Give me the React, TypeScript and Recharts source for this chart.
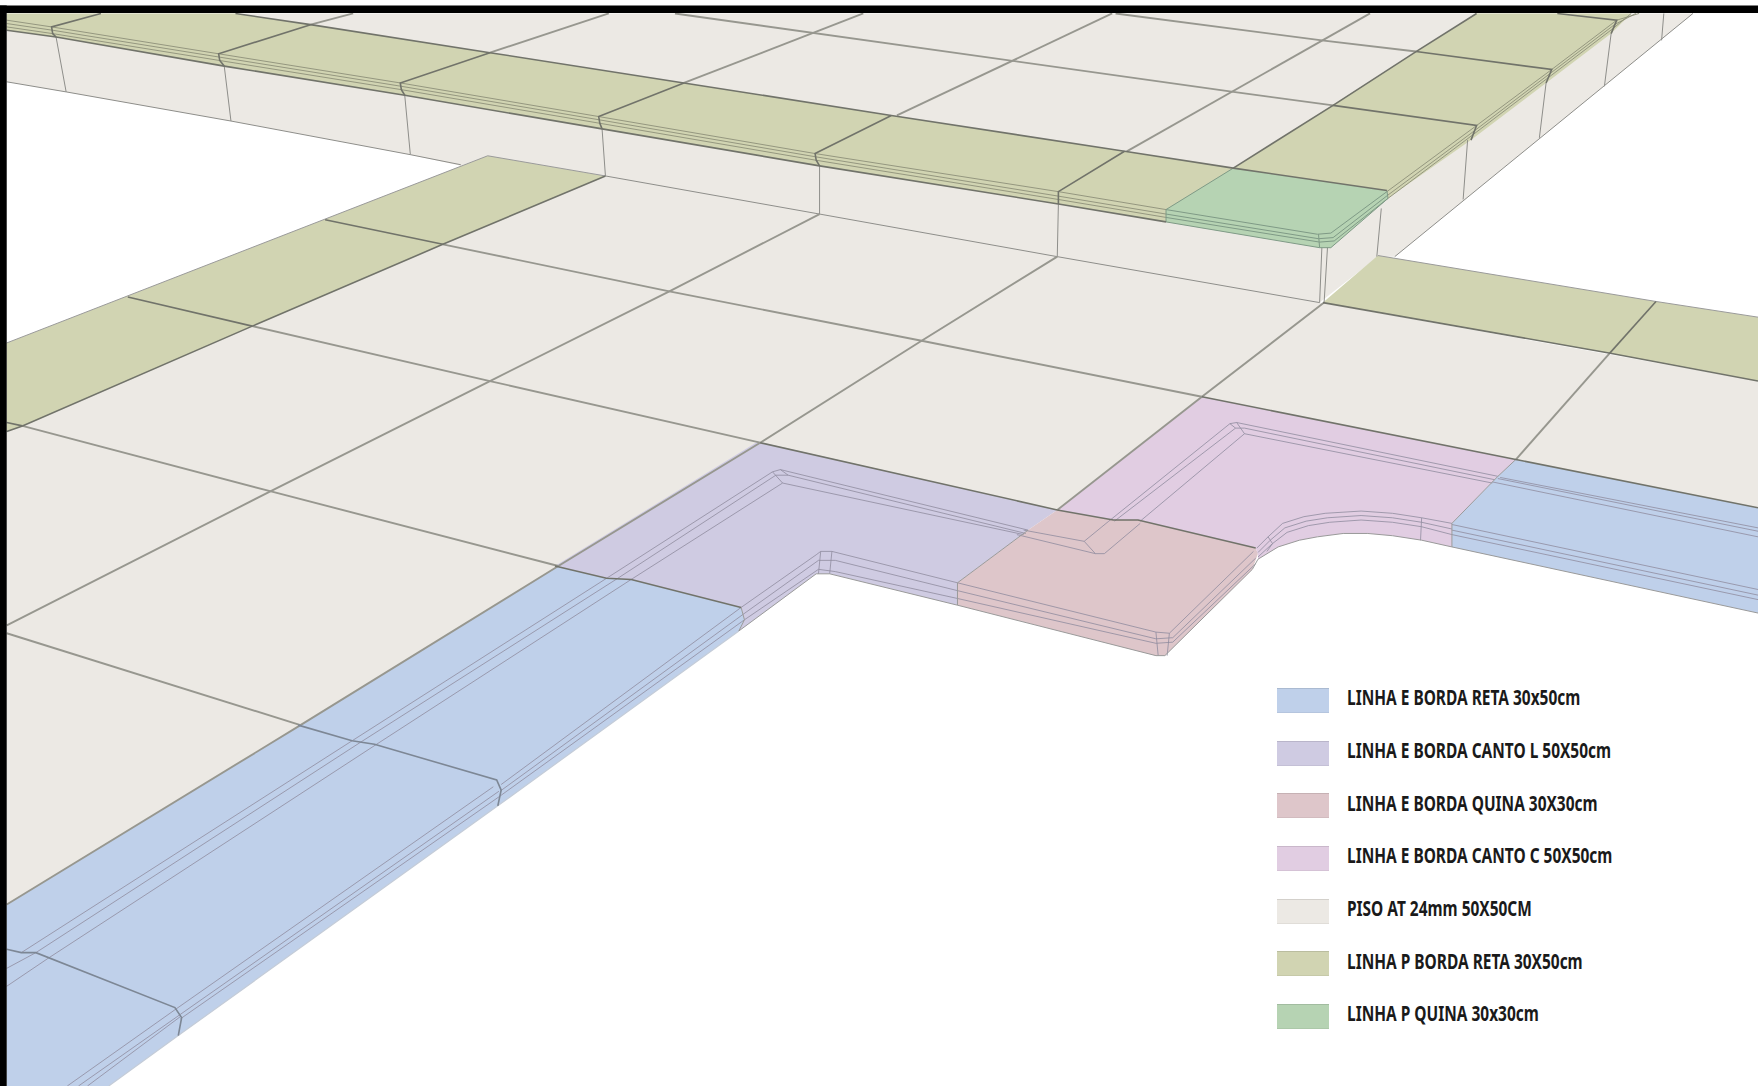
import React from 'react';
import { ComposedChart, Scatter, XAxis, YAxis, Legend } from 'recharts';

type P = [number, number];

const frameBands: P[][] = [
  [[0, 5], [1568, 5], [1568, 11.5], [0, 11.5]],
  [[0, 5], [6, 5], [6, 969], [0, 969]],
];

const pisoTiles: P[][] = [
  [[6, 12], [1510, 12], [1244, 229], [1229, 229], [1177, 270], [943, 229], [731, 191], [540, 157], [435, 139], [411, 148], [366, 138], [206, 108], [59, 82], [6, 73]],
  [[540, 157], [1177, 270], [1568, 340], [1568, 453], [1352, 410], [1072, 354], [943, 455], [678, 395], [498, 505], [268, 647], [6, 807], [6, 385], [20, 380], [225, 291], [395, 218]],
];
const bordaPTiles: P[][] = [
  [[6, 12], [210, 12], [277, 22], [437, 47], [610, 74], [795, 103], [1003, 135], [1100, 150], [1040, 198], [944, 182], [731, 148], [537, 115], [361, 85], [200, 59], [50, 33], [6, 27]],
  [[1100, 150], [1317, 12], [1455, 12], [1437, 30], [1379, 74], [1312, 125], [1238, 177], [1237, 170]],
  [[435, 139], [540, 157], [395, 218], [225, 291], [20, 380], [6, 385], [6, 306]],
  [[1229, 228], [1477, 269], [1568, 283], [1568, 340], [1435, 315], [1180, 270]],
];
const quinaPTiles: P[][] = [
  [[1100, 150], [1237, 170], [1238, 177], [1187, 221], [1177, 221], [1040, 198], [1040, 187]],
];
const retaETiles: P[][] = [
  [[6, 807], [268, 647], [498, 505], [541, 516], [563, 517], [661, 542], [664, 553], [659, 563], [444, 719], [159, 924], [97, 969], [6, 969]],
  [[1352, 410], [1568, 453], [1568, 547], [1295, 488], [1295, 467], [1336, 425]],
];
const cantoLTiles: P[][] = [
  [[676, 394], [943, 455], [917, 473], [854, 520], [854, 540], [740, 512], [728, 512], [659, 563], [664, 553], [661, 542], [563, 517], [541, 516], [495, 505]],
];
const quinaETiles: P[][] = [
  [[943, 455], [993, 464], [1015, 464], [1120, 489], [1122, 494], [1117, 508], [1039, 585], [1031, 585], [854, 540], [854, 520], [917, 473]],
];
const cantoCTiles: P[][] = [
  [[1072, 354], [1352, 410], [1336, 425], [1295, 467], [1295, 488], [1268, 482], [1242, 478], [1220, 476], [1198, 476], [1175, 479], [1159, 482], [1140, 488], [1122, 499], [1122, 494], [1120, 489], [1015, 464], [993, 464], [943, 455]],
];

const floorJoints: P[][] = [
  [[277, 22], [315, 12]],
  [[437, 47], [543, 12]],
  [[610, 74], [770, 12]],
  [[800, 103], [992, 12]],
  [[1005, 135], [1222, 12]],
  [[602, 12], [1100, 82], [1189, 94]],
  [[995, 12], [1179, 36], [1263, 46]],
  [[20, 380], [240, 438], [498, 505]],
  [[225, 291], [437, 340], [678, 395]],
  [[395, 218], [597, 260], [822, 304], [1072, 354]],
  [[6, 565], [268, 647]],
  [[6, 558], [242, 438], [437, 340], [597, 260], [731, 191]],
  [[6, 807], [268, 647], [498, 505], [678, 395], [822, 304], [943, 229]],
  [[943, 455], [1072, 354], [1181, 270]],
  [[1352, 410], [1435, 316]],
];

const riserLines: P[][] = [
  [[6, 73], [59, 82], [206, 108], [366, 138], [411, 147]],
  [[540, 157], [731, 191], [943, 229], [1177, 270]],
  [[50, 33], [59, 82]],
  [[200, 59], [206, 108]],
  [[361, 85], [366, 138]],
  [[537, 115], [540, 157]],
  [[731, 148], [731, 191]],
  [[944, 182], [943, 229]],
  [[1179, 221], [1177, 270]],
  [[1184, 221], [1181, 270]],
  [[1232, 186], [1228, 229]],
  [[1309, 125], [1305, 178]],
  [[1379, 74], [1373, 123]],
  [[1437, 30], [1431, 77]],
  [[1484, 12], [1482, 36]],
  [[1244, 229], [1510, 12]],
];

const darkEdges: P[][] = [
  [[210, 12], [277, 22], [437, 47], [610, 74], [795, 103], [1003, 135], [1100, 150], [1237, 170]],
  [[1100, 150], [1189, 94], [1263, 46], [1317, 12]],
  [[90, 12], [46, 24], [47, 30], [50, 33]],
  [[277, 22], [195, 48], [196, 54], [200, 59]],
  [[437, 47], [357, 74], [358, 80], [361, 85]],
  [[610, 74], [534, 104], [535, 110], [537, 115]],
  [[795, 103], [727, 137], [728, 143], [731, 148]],
  [[1003, 135], [944, 171], [944, 182]],
  [[1189, 94], [1317, 112], [1312, 125]],
  [[1263, 46], [1384, 62], [1379, 74]],
  [[1389, 12], [1442, 18], [1437, 30]],
  [[6, 27], [50, 33], [200, 59], [361, 85], [537, 115], [731, 148], [944, 182], [1040, 198]],
  [[290, 196], [395, 218]],
  [[114, 265], [225, 291]],
  [[6, 377], [20, 380]],
  [[540, 157], [395, 218], [225, 291], [20, 380], [6, 385]],
  [[1180, 270], [1435, 315], [1568, 340]],
  [[1477, 269], [1435, 316]],
  [[678, 395], [943, 455], [993, 464], [1015, 464], [1120, 489]],
  [[1072, 354], [1352, 410], [1568, 453]],
  [[495, 505], [541, 516], [563, 517], [661, 542]],
];

const blueJoints: P[][] = [
  [[266, 647], [314, 661], [334, 664], [443, 696], [447, 705], [444, 719]],
  [[6, 847], [19, 850], [32, 850], [156, 899], [162, 908], [159, 924]],
];

const outerEdges: P[][] = [
  [[728, 512], [740, 512], [854, 540], [1031, 585], [1039, 585], [1117, 508], [1122, 499], [1140, 488], [1159, 482], [1175, 479], [1198, 476], [1220, 476], [1242, 478], [1268, 482], [1295, 488], [1568, 547]],
  [[435, 139], [6, 306]],
  [[435, 139], [540, 157]],
  [[1229, 228], [1477, 269], [1568, 283]],
  [[917, 473], [854, 520], [854, 540]],
  [[1352, 410], [1336, 425], [1295, 467], [1295, 488]],
  [[661, 542], [664, 553], [659, 563]],
  [[659, 563], [728, 512]],
];

const faintEdges: P[][] = [
  [[659, 563], [444, 719], [159, 924], [97, 969]],
];

const stripGrooves: P[][] = [
  [[6, 18], [46, 24], [195, 48], [357, 74], [534, 104], [727, 137], [944, 171], [1040, 187]],
  [[6, 21], [47, 27], [196, 51], [358, 77], [535, 107], [728, 140], [944, 175], [1040, 191]],
  [[6, 24], [47, 30], [196, 54], [358, 80], [535, 110], [728, 143], [944, 178], [1040, 194]],
  [[1237, 171], [1317, 112], [1384, 62], [1442, 18], [1462, 12]],
  [[1238, 174], [1316, 116], [1382, 66], [1440, 22], [1459, 12]],
  [[1238, 177], [1314, 120], [1380, 70], [1438, 26], [1455, 12]],
];

const quinaPGrooves: P[][] = [
  [[1100, 150], [1040, 187], [1040, 198]],
  [[1040, 187], [1175, 209], [1187, 208], [1237, 171]],
  [[1040, 191], [1176, 213], [1189, 212], [1238, 174]],
  [[1040, 194], [1177, 216], [1190, 215], [1238, 177]],
  [[1040, 198], [1177, 221], [1187, 221], [1238, 177]],
  [[1176, 209], [1177, 221]],
  [[1237, 170], [1238, 177]],
];

const fineGrooves: P[][] = [
  [[19, 850], [314, 661], [541, 516], [689, 421], [696, 419], [917, 473]],
  [[6, 864], [32, 850], [322, 662], [551, 516], [692, 424], [703, 424], [915, 476]],
  [[6, 880], [43, 855], [336, 664], [563, 517], [698, 431], [913, 477]],
  [[689, 421], [698, 431]],
  [[696, 419], [703, 424]],
  [[447, 700], [661, 542]],
  [[446, 706], [663, 548]],
  [[445, 711], [664, 553]],
  [[156, 901], [60, 969]],
  [[161, 905], [70, 969]],
  [[161, 907], [78, 969]],
  [[440, 702], [156, 901]],
  [[445, 706], [161, 905]],
  [[445, 711], [161, 909]],
  [[661, 542], [728, 495], [732, 492], [742, 492], [854, 520]],
  [[663, 548], [730, 500], [745, 500], [854, 527]],
  [[664, 553], [730, 508], [745, 510], [854, 534]],
  [[732, 492], [730, 512]],
  [[742, 492], [740, 512]],
  [[854, 520], [1031, 564], [1043, 565], [1118, 492]],
  [[854, 527], [1031, 570], [1046, 569], [1120, 498]],
  [[854, 534], [1031, 574], [1046, 573], [1120, 503]],
  [[1031, 564], [1033, 585]],
  [[1043, 565], [1041, 585]],
  [[913, 473], [967, 483], [989, 465]],
  [[907, 477], [977, 494], [985, 494], [1017, 467]],
  [[967, 483], [977, 494]],
  [[989, 465], [1097, 378], [1103, 377], [1336, 425]],
  [[994, 465], [1102, 382], [1110, 382], [1333, 428]],
  [[1017, 465], [1110, 387], [1331, 431]],
  [[1097, 378], [1102, 382]],
  [[1103, 377], [1110, 387]],
  [[1121, 489], [1131, 479], [1144, 467], [1163, 461], [1182, 458], [1214, 456], [1242, 458], [1268, 462], [1295, 467]],
  [[1122, 493], [1133, 482], [1146, 471], [1165, 465], [1184, 462], [1214, 460], [1242, 462], [1268, 466], [1295, 472]],
  [[1122, 497], [1135, 485], [1148, 475], [1167, 469], [1186, 466], [1214, 464], [1242, 466], [1268, 470], [1295, 477]],
  [[1131, 479], [1135, 485], [1130, 492]],
  [[1268, 462], [1267, 482]],
  [[1338, 426], [1568, 471]],
  [[1336, 427], [1568, 474]],
  [[1331, 430], [1568, 479]],
  [[1295, 468], [1568, 526]],
  [[1295, 473], [1568, 531]],
  [[1295, 477], [1568, 535]],
];

const legendLabels = [
  'LINHA E BORDA RETA 30x50cm',
  'LINHA E BORDA CANTO L 50X50cm',
  'LINHA E BORDA QUINA 30X30cm',
  'LINHA E BORDA CANTO C 50X50cm',
  'PISO AT 24mm 50X50CM',
  'LINHA P BORDA RETA 30X50cm',
  'LINHA P QUINA 30x30cm',
];

const RETA_E = '#bfd0ea';
const CANTO_L = '#cfcbe2';
const QUINA_E = '#dec6ca';
const CANTO_C = '#e1cde2';
const PISO = '#ece9e4';
const BORDA_P = '#d1d4b2';
const QUINA_P = '#b6d3b3';
const legendColors = [RETA_E, CANTO_L, QUINA_E, CANTO_C, PISO, BORDA_P, QUINA_P];

const toPoints = (line: P[]) => line.map(([x, y]) => ({ x, y }));

// Scatter hands the scaled points to this, so a tile is just a closed scatter line
const tileShape = (fill: string) => (props: any) => (
  <polygon points={props.points.map((p: any) => `${p.x},${p.y}`).join(' ')} fill={fill} stroke="none" />
);
const noDot = () => <g />;

const renderTiles = (tiles: P[][], fill: string, name: string) =>
  tiles.map((t, i) => (
    <Scatter key={`${name}${i}`} data={toPoints(t)} dataKey="y" line={tileShape(fill)} shape={noDot} isAnimationActive={false} />
  ));

const renderLines = (lines: P[][], stroke: string, strokeWidth: number, name: string) =>
  lines.map((l, i) => (
    <Scatter key={`${name}${i}`} data={toPoints(l)} dataKey="y" line={{ stroke, strokeWidth }} shape={noDot} isAnimationActive={false} />
  ));

const LegendBox = () => (
  <div style={{ fontFamily: '"Noto Sans", sans-serif', fontWeight: 700, fontSize: 22, color: '#1a1a1a' }}>
    {legendLabels.map((label, i) => (
      <div key={label} style={{ display: 'flex', alignItems: 'center', height: 52.7 }}>
        <div
          style={{
            width: 52,
            height: 23,
            background: legendColors[i],
            marginRight: 18,
            flex: 'none',
            position: 'relative',
            top: 4,
            borderTop: '1px solid rgba(0,0,0,0.1)',
            borderBottom: '1px solid rgba(0,0,0,0.05)',
          }}
        />
        <span style={{ whiteSpace: 'nowrap', display: 'inline-block', transform: 'scaleX(0.702)', transformOrigin: 'left center' }}>{label}</span>
      </div>
    ))}
  </div>
);

export default function App() {
  return (
    <div style={{ position: 'absolute', left: 0, top: 0, width: 1758, height: 1086, background: '#fff', overflow: 'hidden' }}>
      <ComposedChart width={1758} height={1086} margin={{ top: 0, right: 0, bottom: 0, left: 0 }}>
        <XAxis type="number" dataKey="x" domain={[0, 1568]} hide />
        <YAxis type="number" dataKey="y" domain={[0, 969]} reversed hide />
        {renderTiles(pisoTiles, PISO, 'piso')}
        {renderTiles(bordaPTiles, BORDA_P, 'bordaP')}
        {renderTiles(quinaPTiles, QUINA_P, 'quinaP')}
        {renderTiles(retaETiles, RETA_E, 'reta')}
        {renderTiles(cantoLTiles, CANTO_L, 'cantoL')}
        {renderTiles(quinaETiles, QUINA_E, 'quinaE')}
        {renderTiles(cantoCTiles, CANTO_C, 'cantoC')}
        {renderLines(riserLines, '#8e8e8a', 1, 'riser')}
        {renderLines(floorJoints, '#97978f', 1.9, 'joint')}
        {renderLines(stripGrooves, '#8d9079', 0.9, 'strip')}
        {renderLines(quinaPGrooves, '#7f9a86', 1, 'quinaGroove')}
        {renderLines(fineGrooves, '#8f8c9e', 0.8, 'fine')}
        {renderLines(faintEdges, '#c4ccd8', 1.2, 'faint')}
        {renderLines(outerEdges, '#9a9a9a', 1, 'outer')}
        {renderLines(blueJoints, '#7d8795', 1.6, 'blue')}
        {renderLines(darkEdges, '#71736a', 1.6, 'dark')}
        {renderTiles(frameBands, '#000', 'frame')}
        <Legend
          layout="horizontal"
          verticalAlign="middle"
          content={<LegendBox />}
          wrapperStyle={{ left: 1277, top: 670, width: 470, bottom: 'auto', right: 'auto' }}
        />
      </ComposedChart>
    </div>
  );
}
